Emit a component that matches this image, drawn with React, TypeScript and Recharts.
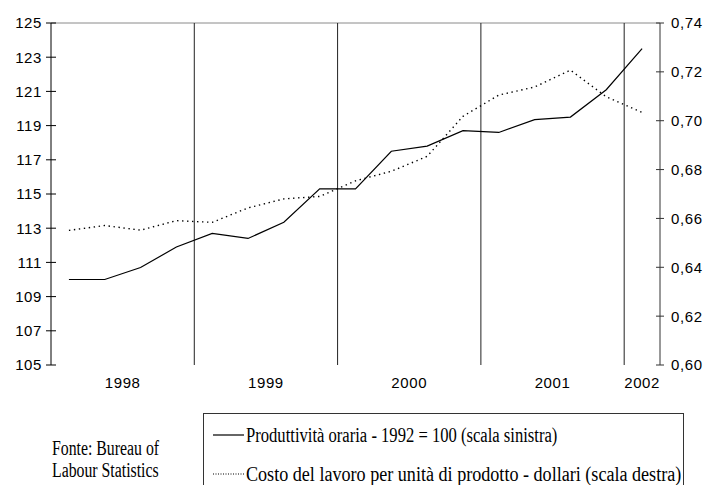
import React from 'react';
import { LineChart, Line, XAxis, YAxis, ReferenceLine } from 'recharts';

const quarterYears = [1998, 1998, 1998, 1998, 1999, 1999, 1999, 1999, 2000, 2000, 2000, 2000, 2001, 2001, 2001, 2001, 2002];
const quarterNames = ['I', 'II', 'III', 'IV', 'I', 'II', 'III', 'IV', 'I', 'II', 'III', 'IV', 'I', 'II', 'III', 'IV', 'I'];
const productivity = [110.0, 110.0, 110.7, 111.9, 112.7, 112.4, 113.35, 115.3, 115.3, 117.5, 117.8, 118.7, 118.6, 119.35, 119.5, 121.1, 123.5];
const laborCost = [0.6551, 0.6571, 0.6552, 0.6591, 0.6584, 0.6643, 0.668, 0.669, 0.6754, 0.6793, 0.6854, 0.7018, 0.7105, 0.7138, 0.7207, 0.7098, 0.7034];
const years = [1998, 1999, 2000, 2001, 2002];
const leftTicks = [105, 107, 109, 111, 113, 115, 117, 119, 121, 123, 125];
const rightTicks = [0.6, 0.62, 0.64, 0.66, 0.68, 0.7, 0.72, 0.74];

const prodLabel = 'Produttività oraria - 1992 = 100 (scala sinistra)';
const costLabel = 'Costo del lavoro per unità di prodotto - dollari (scala destra)';
const sourceLines = ['Fonte: Bureau of', 'Labour Statistics'];

const data = productivity.map((p, i) => ({
  x: i + 0.5,
  q: `${quarterNames[i]} ${quarterYears[i]}`,
  prod: p,
  cost: laborCost[i],
}));
const yearCenters = years.map((y) => {
  const xs = data.filter((_, i) => quarterYears[i] === y).map((d) => d.x);
  return (Math.min(...xs) + Math.max(...xs)) / 2;
});
const yearBoundaries = years.slice(1).map((y) => quarterYears.indexOf(y));
const xDomain = [0, productivity.length];

const axisFont = '"Liberation Sans", Arial, sans-serif';
const serifFont = '"Liberation Serif", "Times New Roman", serif';

const LeftTick = (props: any) => {
  const { x, y, payload } = props;
  return (
    <g>
      <line x1={x - 5} x2={x + 5} y1={y} y2={y} stroke="#000" strokeWidth={1} />
      <text x={x - 9} y={y} dy="0.36em" textAnchor="end" fontFamily={axisFont} fontSize={15} letterSpacing={0.6} fill="#000">
        {payload.value}
      </text>
    </g>
  );
};

const RightTick = (props: any) => {
  const { x, y, payload } = props;
  return (
    <g>
      <line x1={x - 4} x2={x + 4} y1={y} y2={y} stroke="#333" strokeWidth={1} />
      <text x={x + 11} y={y} dy="0.36em" textAnchor="start" fontFamily={axisFont} fontSize={15} letterSpacing={0.6} fill="#000">
        {Number(payload.value).toFixed(2).replace('.', ',')}
      </text>
    </g>
  );
};

const squeezed = (scale: number): React.CSSProperties => ({
  display: 'inline-block',
  transform: `scaleX(${scale})`,
  transformOrigin: 'left center',
  whiteSpace: 'nowrap',
});

export default function App() {
  return (
    <div style={{ position: 'absolute', left: 0, top: 0, width: 708, height: 485, overflow: 'hidden', background: '#fff' }}>
      <LineChart width={708} height={485} data={data} margin={{ top: 23, right: 0, bottom: 90, left: 0 }}>
        <XAxis
          xAxisId="grid"
          type="number"
          dataKey="x"
          domain={xDomain}
          ticks={[0, ...yearBoundaries, productivity.length]}
          tick={false}
          tickSize={4}
          height={0}
          axisLine={{ stroke: '#333' }}
          tickLine={{ stroke: '#333' }}
        />
        <XAxis
          xAxisId="lab"
          type="number"
          dataKey="x"
          domain={xDomain}
          ticks={yearCenters}
          tickFormatter={(v: number) => String(years[yearCenters.indexOf(v)])}
          axisLine={false}
          tickLine={false}
          tickSize={0}
          tickMargin={12}
          height={30}
          interval={0}
          tick={{ fontFamily: axisFont, fontSize: 15, fill: '#000', letterSpacing: 0.6 }}
        />
        <YAxis
          yAxisId="left"
          orientation="left"
          domain={[105, 125]}
          ticks={leftTicks}
          width={51}
          tickSize={0}
          tickMargin={0}
          tickLine={false}
          axisLine={{ stroke: '#000' }}
          tick={<LeftTick />}
          interval={0}
        />
        <YAxis
          yAxisId="right"
          orientation="right"
          domain={[0.6, 0.74]}
          ticks={rightTicks}
          width={48}
          tickSize={0}
          tickMargin={0}
          tickLine={false}
          axisLine={{ stroke: '#333' }}
          tick={<RightTick />}
          interval={0}
        />
        <ReferenceLine xAxisId="grid" yAxisId="left" y={125} stroke="#8a8a8a" strokeWidth={1} />
        {yearBoundaries.map((b) => (
          <ReferenceLine key={b} xAxisId="grid" yAxisId="left" x={b} stroke="#222" strokeWidth={1} />
        ))}
        <Line
          xAxisId="grid"
          yAxisId="left"
          type="linear"
          dataKey="prod"
          stroke="#000"
          strokeWidth={1.2}
          dot={false}
          isAnimationActive={false}
          name={prodLabel}
        />
        <Line
          xAxisId="grid"
          yAxisId="right"
          type="linear"
          dataKey="cost"
          stroke="#000"
          strokeWidth={1.4}
          strokeDasharray="1.4 3.6"
          dot={false}
          isAnimationActive={false}
          name={costLabel}
        />
      </LineChart>
      <div
        style={{
          position: 'absolute',
          left: 203,
          top: 413,
          width: 479,
          height: 120,
          border: '1px solid #333',
          fontFamily: serifFont,
          fontSize: 20,
          color: '#000',
        }}
      >
        <div style={{ position: 'absolute', left: 9, top: 11, height: 20, display: 'flex', alignItems: 'center', whiteSpace: 'nowrap' }}>
          <svg width={32} height={10} style={{ marginRight: 1, flex: 'none' }}>
            <line x1={0} x2={31} y1={5} y2={5} stroke="#000" strokeWidth={1.2} />
          </svg>
          <span style={squeezed(0.83)}>{prodLabel}</span>
        </div>
        <div style={{ position: 'absolute', left: 9, top: 50, height: 20, display: 'flex', alignItems: 'center', whiteSpace: 'nowrap' }}>
          <svg width={32} height={10} style={{ marginRight: 1, flex: 'none' }}>
            <line x1={0} x2={31} y1={5} y2={5} stroke="#000" strokeWidth={1.2} strokeDasharray="1 1.5" />
          </svg>
          <span style={squeezed(0.905)}>{costLabel}</span>
        </div>
      </div>
      <div style={{ position: 'absolute', left: 52, top: 437, fontFamily: serifFont, fontSize: 20, lineHeight: '22px', color: '#000' }}>
        {sourceLines.map((s) => (
          <div key={s} style={{ height: 22 }}>
            <span style={squeezed(0.79)}>{s}</span>
          </div>
        ))}
      </div>
    </div>
  );
}
